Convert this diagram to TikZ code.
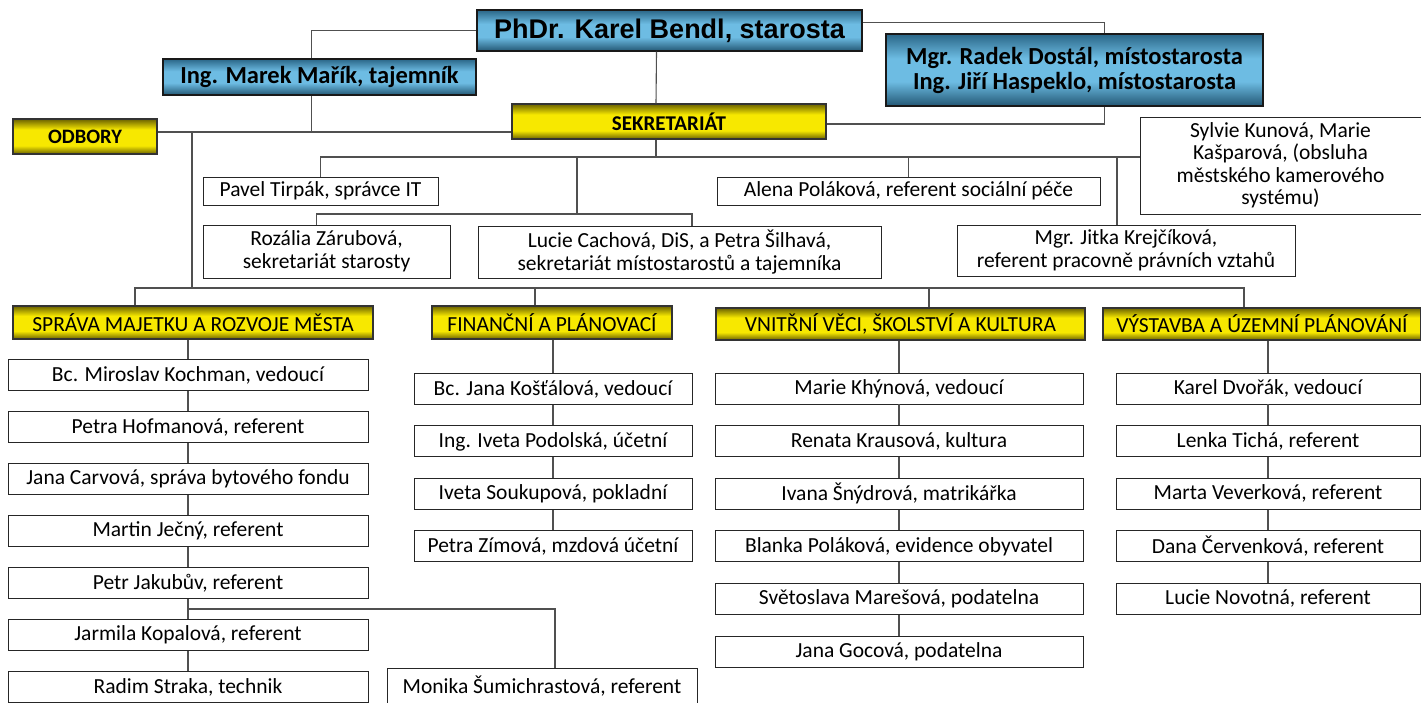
\documentclass[tikz,border=0pt]{standalone}
\usepackage{fontspec}
\setmainfont{Carlito}
\newfontfamily\arialfont{Liberation Sans}

\definecolor{bluetop}{HTML}{2A6687}
\definecolor{bluemid}{HTML}{6DBCE3}
\definecolor{bluebot}{HTML}{235774}
\definecolor{oliveedge}{HTML}{6B6200}
\definecolor{yellowmid}{HTML}{F7E800}
\definecolor{linkgray}{HTML}{505050}

\pgfdeclareverticalshading{bluebar}{100bp}{color(0bp)=(bluebot); color(25bp)=(bluebot); color(42bp)=(bluemid); color(58bp)=(bluemid); color(75bp)=(bluetop); color(100bp)=(bluetop)}
\pgfdeclareverticalshading{yellowbar}{100bp}{color(0bp)=(oliveedge); color(25bp)=(oliveedge); color(37bp)=(yellowmid); color(60bp)=(yellowmid); color(75bp)=(oliveedge); color(100bp)=(oliveedge)}

\tikzset{
  person/.style={draw=black!85, line width=0.9pt, fill=white, align=center, inner sep=0pt,
    font=\fontsize{21.5}{22.5}\selectfont},
  chief/.style={draw=black!90, line width=1.4pt, shading=bluebar, align=center, inner sep=0pt,
    font=\bfseries\fontsize{24.5}{25}\selectfont},
  dept/.style={draw=black!80, line width=1.2pt, shading=yellowbar, align=center, inner sep=0pt,
    font=\fontsize{21.5}{22.5}\selectfont},
  link/.style={draw=linkgray, line width=1.1pt}
}

\begin{document}
\begin{tikzpicture}[x=1pt,y=-1pt]
\useasboundingbox (0,0) rectangle (1421,702);

% vedeni
\node[chief, minimum width=385, minimum height=41, font=\arialfont\bfseries\fontsize{27}{30}\selectfont] (bendl) at (669.5,30.5) {PhDr. Karel Bendl, starosta};
\node[chief, minimum width=313, minimum height=36] (marik) at (319.5,77) {Ing. Marek Mařík, tajemník};
\node[chief, minimum width=377, minimum height=72] (dostal) at (1074.5,70) {Mgr. Radek Dostál, místostarosta\\Ing. Jiří Haspeklo, místostarosta};
\node[dept, minimum width=144, minimum height=35, font=\bfseries\fontsize{20.5}{21}\selectfont] (odbory) at (85,136.5) {ODBORY};
\node[dept, minimum width=314, minimum height=35, font=\bfseries\fontsize{21}{22}\selectfont] (sekr) at (669,121.5) {SEKRETARIÁT};

% sekretariat
\node[person, minimum width=235, minimum height=28] (tirpak) at (320.5,191) {Pavel Tirpák, správce IT};
\node[person, minimum width=383, minimum height=28] (alena) at (908.5,191) {Alena Poláková, referent sociální péče};
\node[person, minimum width=281, minimum height=97] (sylvie) at (1280.5,165.5) {Sylvie Kunová, Marie\\Kašparová, (obsluha\\městského kamerového\\systému)};
\node[person, minimum width=247, minimum height=53] (rozalia) at (326.5,251.5) {Rozália Zárubová,\\sekretariát starosty};
\node[person, minimum width=403, minimum height=52] (lucie) at (679.5,252) {Lucie Cachová, DiS, a Petra Šilhavá,\\sekretariát místostarostů a tajemníka};
\node[person, minimum width=338, minimum height=51] (jitka) at (1126,250.5) {Mgr. Jitka Krejčíková,\\referent pracovně právních vztahů};

% odbory
\node[dept, minimum width=360, minimum height=33] (spr) at (193,322.5) {SPRÁVA MAJETKU A ROZVOJE MĚSTA};
\node[dept, minimum width=240, minimum height=33] (fin) at (552,322.5) {FINANČNÍ A PLÁNOVACÍ};
\node[dept, minimum width=369, minimum height=32] (vni) at (900.5,324) {VNITŘNÍ VĚCI, ŠKOLSTVÍ A KULTURA};
\node[dept, minimum width=318, minimum height=32] (vys) at (1262,324) {VÝSTAVBA A ÚZEMNÍ PLÁNOVÁNÍ};

\foreach \who [count=\i] in {{Bc. Miroslav Kochman, vedoucí},{Petra Hofmanová, referent},{Jana Carvová, správa bytového fondu},{Martin Ječný, referent},{Petr Jakubův, referent},{Jarmila Kopalová, referent},{Radim Straka, technik}}
  \node[person, minimum width=360, minimum height=31] (spr\i) at (188,{375+52*(\i-1)}) {\who};
\node[person, minimum width=310, minimum height=36] (monika) at (542,686) {Monika Šumichrastová, referent};

\foreach \who [count=\i] in {{Bc. Jana Košťálová, vedoucí},{Ing. Iveta Podolská, účetní},{Iveta Soukupová, pokladní},{Petra Zímová, mzdová účetní}}
  \node[person, minimum width=278, minimum height=31] (fin\i) at (553,{389+52.4*(\i-1)}) {\who};

\foreach \who [count=\i] in {{Marie Khýnová, vedoucí},{Renata Krausová, kultura},{Ivana Šnýdrová, matrikářka},{Blanka Poláková, evidence obyvatel},{Světoslava Marešová, podatelna},{Jana Gocová, podatelna}}
  \node[person, minimum width=368, minimum height=31] (vni\i) at (899,{388.5+52.6*(\i-1)}) {\who};

\foreach \who [count=\i] in {{Karel Dvořák, vedoucí},{Lenka Tichá, referent},{Marta Veverková, referent},{Dana Červenková, referent},{Lucie Novotná, referent}}
  \node[person, minimum width=304, minimum height=31] (vys\i) at (1268,{388.5+52.6*(\i-1)}) {\who};

% spoje nahore
\draw[link] (bendl.west) -| ([xshift=-8pt]marik.north);
\draw[link] ([yshift=8pt]bendl.east) -| ([xshift=30pt]dostal.north);
\draw[link] ([xshift=-13pt]bendl.south) -- ([xshift=-13pt]sekr.north);
\draw[link] ([xshift=30pt]dostal.south) |- ([yshift=-2.5pt]sekr.east);
\coordinate (hub) at (192,132);
\draw[link] (odbory.east |- hub) -- (sekr.west |- hub);
\draw[link] ([xshift=-8pt]marik.south) -- ([xshift=-8pt]marik.south |- hub);

% sekretariat
\coordinate (sbus) at (656,157);
\coordinate (sbus2) at (577,214);
\draw[link] ([xshift=-13pt]sekr.south) -- (sbus);
\draw[link] (tirpak.north) |- (sylvie.west |- sbus);
\draw[link] (alena.north) -- (alena.north |- sbus);
\draw[link] ([xshift=-9pt]jitka.north) -- ([xshift=-9pt]jitka.north |- sbus);
\draw[link] (sbus -| sbus2) -- (sbus2);
\draw[link] ([xshift=-10pt]rozalia.north) |- (sbus2) -| ([xshift=12.5pt]lucie.north);

% odbory
\coordinate (dbus) at (192,288);
\draw[link] (hub) -- (dbus);
\draw[link] ([xshift=-58pt]spr.north) |- (dbus) -| ([xshift=-18pt]vys.north);
\draw[link] ([xshift=-17pt]fin.north) -- ([xshift=-17pt]fin.north |- dbus);
\draw[link] ([xshift=28.5pt]vni.north) -- ([xshift=28.5pt]vni.north |- dbus);

% sloupce
\draw[link] (spr.south -| spr1) -- (spr1);
\foreach \i [count=\j from 2] in {1,...,6}
  \draw[link] (spr\i) -- (spr\j);
\coordinate (split) at (188,609);
\draw[link] (split) -| ([xshift=13pt]monika.north);
\draw[link] (fin.south -| fin1) -- (fin1);
\foreach \i [count=\j from 2] in {1,...,3}
  \draw[link] (fin\i) -- (fin\j);
\draw[link] (vni.south -| vni1) -- (vni1);
\foreach \i [count=\j from 2] in {1,...,5}
  \draw[link] (vni\i) -- (vni\j);
\draw[link] (vys.south -| vys1) -- (vys1);
\foreach \i [count=\j from 2] in {1,...,4}
  \draw[link] (vys\i) -- (vys\j);
\end{tikzpicture}
\end{document}
